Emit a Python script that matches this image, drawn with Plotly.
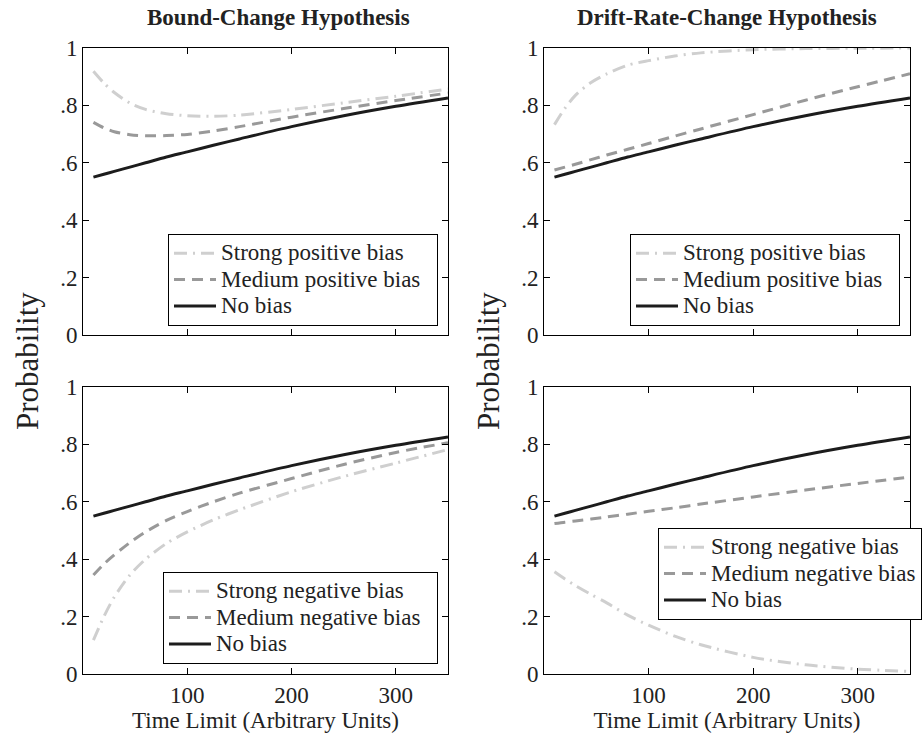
import plotly.graph_objects as go

# ---------------- data ----------------
time_limit = [10, 20, 30, 45, 60, 80, 100, 125, 150, 200, 250, 300, 350]

no_bias = [0.550, 0.560, 0.570, 0.585, 0.600, 0.620, 0.638, 0.661, 0.683, 0.726, 0.764, 0.797, 0.826]

bound_pos_strong = [0.919, 0.878, 0.845, 0.808, 0.786, 0.771, 0.764, 0.762, 0.766, 0.786, 0.809, 0.832, 0.857]
bound_pos_medium = [0.741, 0.722, 0.708, 0.698, 0.694, 0.695, 0.699, 0.711, 0.726, 0.759, 0.789, 0.817, 0.843]

drift_pos_strong = [0.733, 0.790, 0.835, 0.880, 0.910, 0.940, 0.956, 0.972, 0.983, 0.994, 0.998, 0.999, 1.000]
drift_pos_medium = [0.575, 0.585, 0.595, 0.611, 0.627, 0.647, 0.667, 0.693, 0.718, 0.768, 0.818, 0.865, 0.910]

bound_neg_strong = [0.118, 0.200, 0.268, 0.345, 0.400, 0.455, 0.495, 0.537, 0.572, 0.635, 0.688, 0.735, 0.782]
bound_neg_medium = [0.345, 0.383, 0.415, 0.458, 0.495, 0.535, 0.566, 0.600, 0.630, 0.681, 0.730, 0.772, 0.806]

drift_neg_strong = [0.356, 0.331, 0.308, 0.277, 0.248, 0.205, 0.170, 0.132, 0.102, 0.058, 0.032, 0.017, 0.009]
drift_neg_medium = [0.524, 0.529, 0.533, 0.540, 0.547, 0.557, 0.567, 0.579, 0.592, 0.617, 0.641, 0.664, 0.686]

panel_titles = ["Bound-Change Hypothesis", "Drift-Rate-Change Hypothesis"]
pos_names = ["Strong positive bias", "Medium positive bias", "No bias"]
neg_names = ["Strong negative bias", "Medium negative bias", "No bias"]
y_tickvals = [0, 0.2, 0.4, 0.6, 0.8, 1]
y_ticktext = ["0", ".2", ".4", ".6", ".8", "1"]
x_tickvals = [100, 200, 300]
x_title = "Time Limit (Arbitrary Units)"
y_title = "Probability"

# ---------------- styling ----------------
FONT = "Liberation Serif"
W, H = 923, 733
styles = [
    dict(color="#cfcfcf", width=3, dash="13px,6px,2px,6px"),
    dict(color="#999999", width=3, dash="11px,7px"),
    dict(color="#1c1c1c", width=3, dash="solid"),
]

# panel pixel boxes (left, right, top, bottom)
boxes = {
    1: (83, 448, 48, 335),
    2: (544, 910, 48, 335),
    3: (83, 448, 387, 674),
    4: (544, 910, 387, 674),
}

panels = {
    1: (bound_pos_strong, bound_pos_medium, no_bias, pos_names),
    2: (drift_pos_strong, drift_pos_medium, no_bias, pos_names),
    3: (bound_neg_strong, bound_neg_medium, no_bias, neg_names),
    4: (drift_neg_strong, drift_neg_medium, no_bias, neg_names),
}

fig = go.Figure()
layout = {}
for i in range(1, 5):
    strong, medium, nob, names = panels[i]
    sfx = "" if i == 1 else str(i)
    leg = "legend" if i == 1 else f"legend{i}"
    pad = "&nbsp;&nbsp;" if i < 4 else ""
    for series, name, st in zip([strong, medium, nob], names, styles):
        fig.add_trace(go.Scatter(
            x=time_limit, y=series, mode="lines",
            name=f'<span style="font-size:23px">{name}{pad}</span>',
            line=dict(color=st["color"], width=st["width"], dash=st["dash"], shape="spline", smoothing=0.8),
            xaxis=f"x{sfx}", yaxis=f"y{sfx}", legend=leg, showlegend=True,
        ))
    l, r, t, b = boxes[i]
    axis_common = dict(
        showline=True, linecolor="black", linewidth=1, mirror="ticks",
        ticks="inside", ticklen=6, tickcolor="black", tickwidth=1,
        showgrid=False, zeroline=False,
        tickfont=dict(family=FONT, size=23, color="#222"),
    )
    layout[f"xaxis{sfx}"] = dict(
        domain=[l / W, r / W], range=[0, 350], anchor=f"y{sfx}",
        tickvals=x_tickvals, showticklabels=(i >= 3),
        title=dict(text=x_title if i >= 3 else "", font=dict(family=FONT, size=23, color="#222"), standoff=0),
        **axis_common,
    )
    layout[f"yaxis{sfx}"] = dict(
        domain=[1 - b / H, 1 - t / H], range=[0, 1], anchor=f"x{sfx}",
        tickvals=y_tickvals, ticktext=y_ticktext,
        **axis_common,
    )

legend_common = dict(
    bgcolor="white", bordercolor="black", borderwidth=1,
    font=dict(family=FONT, size=18, color="#222"),
    itemwidth=42, tracegroupgap=0,
)
layout["legend"] = dict(x=438 / W, y=1 - 326 / H, xanchor="right", yanchor="bottom", **legend_common)
layout["legend2"] = dict(x=900 / W, y=1 - 326 / H, xanchor="right", yanchor="bottom", **legend_common)
layout["legend3"] = dict(x=438 / W, y=1 - 664 / H, xanchor="right", yanchor="bottom", **legend_common)
layout["legend4"] = dict(x=658 / W, y=1 - 528 / H, xanchor="left", yanchor="top", **legend_common)

annotations = []
for txt, cx in zip(panel_titles, [278, 727]):
    annotations.append(dict(
        text=f"<b>{txt}</b>", x=cx / W, y=1 - 18 / H, xref="paper", yref="paper",
        xanchor="center", yanchor="middle", showarrow=False,
        font=dict(family=FONT, size=23, color="#222"),
    ))
for cx in [27, 488]:
    annotations.append(dict(
        text=y_title, x=cx / W, y=1 - 361 / H, xref="paper", yref="paper",
        xanchor="center", yanchor="middle", showarrow=False, textangle=-90,
        font=dict(family=FONT, size=31, color="#222"),
    ))

fig.update_layout(
    width=W, height=H,
    margin=dict(l=0, r=0, t=0, b=0, autoexpand=False),
    paper_bgcolor="white", plot_bgcolor="white",
    font=dict(family=FONT),
    annotations=annotations,
    **layout,
)

fig.write_html("out.html")
